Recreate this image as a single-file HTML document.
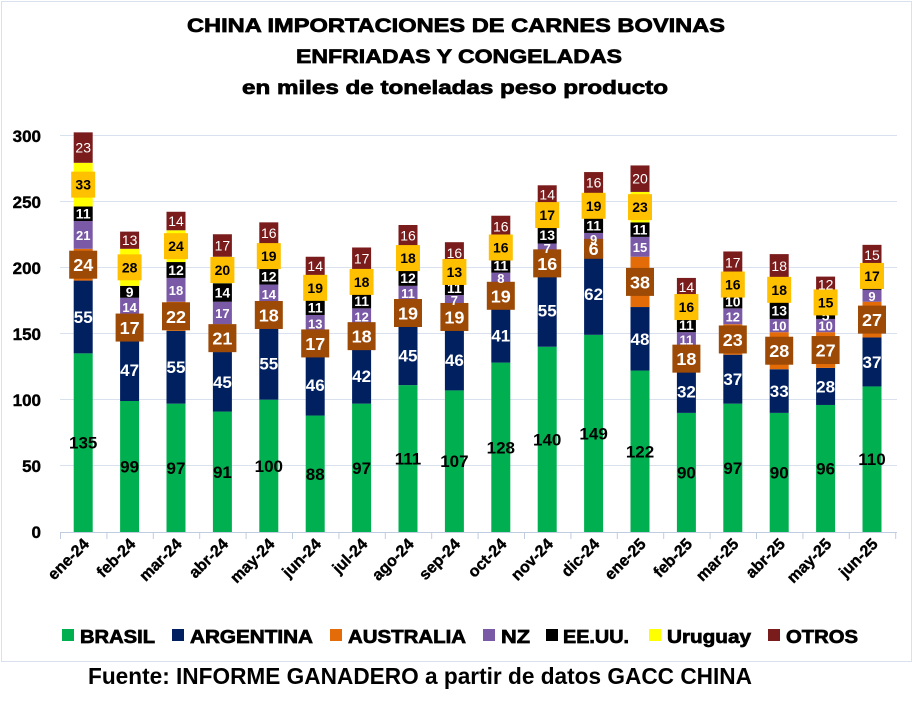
<!DOCTYPE html>
<html><head><meta charset="utf-8"><style>
body{margin:0;background:#fff}
svg{display:block;font-family:"Liberation Sans",sans-serif}
.br{font:bold 17px "Liberation Sans";fill:#000}
.ar{font:bold 17px "Liberation Sans";fill:#fff}
.au{font:bold 18px "Liberation Sans";fill:#fff}
.nz{font:bold 13px "Liberation Sans";fill:#fff}
.us{font:bold 14px "Liberation Sans";fill:#fff}
.uy{font:bold 14px "Liberation Sans";fill:#000}
.ot{font:14px "Liberation Sans";fill:#fff}
.ax{font:bold 17px "Liberation Sans";fill:#000;stroke:#000;stroke-width:0.4}
.xl{font:bold 16px "Liberation Sans";fill:#000;stroke:#000;stroke-width:0.4}
.lg{font:bold 18px "Liberation Sans";fill:#000;stroke:#000;stroke-width:0.7}
.tt{font:bold 19px "Liberation Sans";fill:#000;stroke:#000;stroke-width:0.7}
</style></head><body>
<svg width="920" height="710" viewBox="0 0 920 710" xmlns="http://www.w3.org/2000/svg">
<rect x="1.5" y="1.5" width="910" height="660" fill="#fff" stroke="#d9e1ee"/>
<text class="tt" x="187" y="32" textLength="538" lengthAdjust="spacingAndGlyphs">CHINA IMPORTACIONES DE CARNES BOVINAS</text>
<text class="tt" x="296" y="63" textLength="326" lengthAdjust="spacingAndGlyphs">ENFRIADAS  Y CONGELADAS</text>
<text class="tt" x="242" y="94" textLength="426" lengthAdjust="spacingAndGlyphs">en miles de toneladas peso producto</text>
<g stroke="#d9e1ee" stroke-width="1">
<line x1="60" x2="897" y1="135.5" y2="135.5"/><line x1="60" x2="897" y1="201.5" y2="201.5"/>
<line x1="60" x2="897" y1="267.5" y2="267.5"/><line x1="60" x2="897" y1="333.5" y2="333.5"/>
<line x1="60" x2="897" y1="399.5" y2="399.5"/><line x1="60" x2="897" y1="465.5" y2="465.5"/>
</g>
<g text-anchor="end">
<text x="41" y="538" class="ax">0</text><text x="41" y="472" class="ax">50</text><text x="41" y="406" class="ax">100</text>
<text x="41" y="340" class="ax">150</text><text x="41" y="274" class="ax">200</text><text x="41" y="208" class="ax">250</text><text x="41" y="142" class="ax">300</text>
</g>
<g transform="translate(0,532) scale(1,-1.3233)">
<g>
<g transform="translate(73.7,0)"><rect y="0" width="19" height="135" fill="#00b050"/><rect y="135" width="19" height="55" fill="#002060"/><rect y="190" width="19" height="24" fill="#e36c09"/><rect y="214" width="19" height="21" fill="#7a5aa6"/><rect y="235" width="19" height="11" fill="#000"/><rect y="246" width="19" height="33" fill="#ffff00"/><rect y="279" width="19" height="23" fill="#7b1c1c"/></g>
<g transform="translate(120.1,0)"><rect y="0" width="19" height="99" fill="#00b050"/><rect y="99" width="19" height="47" fill="#002060"/><rect y="146" width="19" height="17" fill="#e36c09"/><rect y="163" width="19" height="14" fill="#7a5aa6"/><rect y="177" width="19" height="9" fill="#000"/><rect y="186" width="19" height="28" fill="#ffff00"/><rect y="214" width="19" height="13" fill="#7b1c1c"/></g>
<g transform="translate(166.5,0)"><rect y="0" width="19" height="97" fill="#00b050"/><rect y="97" width="19" height="55" fill="#002060"/><rect y="152" width="19" height="22" fill="#e36c09"/><rect y="174" width="19" height="18" fill="#7a5aa6"/><rect y="192" width="19" height="12" fill="#000"/><rect y="204" width="19" height="24" fill="#ffff00"/><rect y="228" width="19" height="14" fill="#7b1c1c"/></g>
<g transform="translate(212.9,0)"><rect y="0" width="19" height="91" fill="#00b050"/><rect y="91" width="19" height="45" fill="#002060"/><rect y="136" width="19" height="21" fill="#e36c09"/><rect y="157" width="19" height="17" fill="#7a5aa6"/><rect y="174" width="19" height="14" fill="#000"/><rect y="188" width="19" height="20" fill="#ffff00"/><rect y="208" width="19" height="17" fill="#7b1c1c"/></g>
<g transform="translate(259.3,0)"><rect y="0" width="19" height="100" fill="#00b050"/><rect y="100" width="19" height="55" fill="#002060"/><rect y="155" width="19" height="18" fill="#e36c09"/><rect y="173" width="19" height="14" fill="#7a5aa6"/><rect y="187" width="19" height="12" fill="#000"/><rect y="199" width="19" height="19" fill="#ffff00"/><rect y="218" width="19" height="16" fill="#7b1c1c"/></g>
<g transform="translate(305.7,0)"><rect y="0" width="19" height="88" fill="#00b050"/><rect y="88" width="19" height="46" fill="#002060"/><rect y="134" width="19" height="17" fill="#e36c09"/><rect y="151" width="19" height="13" fill="#7a5aa6"/><rect y="164" width="19" height="11" fill="#000"/><rect y="175" width="19" height="19" fill="#ffff00"/><rect y="194" width="19" height="14" fill="#7b1c1c"/></g>
<g transform="translate(352.1,0)"><rect y="0" width="19" height="97" fill="#00b050"/><rect y="97" width="19" height="42" fill="#002060"/><rect y="139" width="19" height="18" fill="#e36c09"/><rect y="157" width="19" height="12" fill="#7a5aa6"/><rect y="169" width="19" height="11" fill="#000"/><rect y="180" width="19" height="18" fill="#ffff00"/><rect y="198" width="19" height="17" fill="#7b1c1c"/></g>
<g transform="translate(398.5,0)"><rect y="0" width="19" height="111" fill="#00b050"/><rect y="111" width="19" height="45" fill="#002060"/><rect y="156" width="19" height="19" fill="#e36c09"/><rect y="175" width="19" height="11" fill="#7a5aa6"/><rect y="186" width="19" height="12" fill="#000"/><rect y="198" width="19" height="18" fill="#ffff00"/><rect y="216" width="19" height="16" fill="#7b1c1c"/></g>
<g transform="translate(444.9,0)"><rect y="0" width="19" height="107" fill="#00b050"/><rect y="107" width="19" height="46" fill="#002060"/><rect y="153" width="19" height="19" fill="#e36c09"/><rect y="172" width="19" height="7" fill="#7a5aa6"/><rect y="179" width="19" height="11" fill="#000"/><rect y="190" width="19" height="13" fill="#ffff00"/><rect y="203" width="19" height="16" fill="#7b1c1c"/></g>
<g transform="translate(491.3,0)"><rect y="0" width="19" height="128" fill="#00b050"/><rect y="128" width="19" height="41" fill="#002060"/><rect y="169" width="19" height="19" fill="#e36c09"/><rect y="188" width="19" height="8" fill="#7a5aa6"/><rect y="196" width="19" height="11" fill="#000"/><rect y="207" width="19" height="16" fill="#ffff00"/><rect y="223" width="19" height="16" fill="#7b1c1c"/></g>
<g transform="translate(537.7,0)"><rect y="0" width="19" height="140" fill="#00b050"/><rect y="140" width="19" height="55" fill="#002060"/><rect y="195" width="19" height="16" fill="#e36c09"/><rect y="211" width="19" height="7" fill="#7a5aa6"/><rect y="218" width="19" height="13" fill="#000"/><rect y="231" width="19" height="17" fill="#ffff00"/><rect y="248" width="19" height="14" fill="#7b1c1c"/></g>
<g transform="translate(584.1,0)"><rect y="0" width="19" height="149" fill="#00b050"/><rect y="149" width="19" height="62" fill="#002060"/><rect y="211" width="19" height="6" fill="#9c4a06"/><rect y="217" width="19" height="9" fill="#7a5aa6"/><rect y="226" width="19" height="11" fill="#000"/><rect y="237" width="19" height="19" fill="#ffff00"/><rect y="256" width="19" height="16" fill="#7b1c1c"/></g>
<g transform="translate(630.5,0)"><rect y="0" width="19" height="122" fill="#00b050"/><rect y="122" width="19" height="48" fill="#002060"/><rect y="170" width="19" height="38" fill="#e36c09"/><rect y="208" width="19" height="15" fill="#7a5aa6"/><rect y="223" width="19" height="11" fill="#000"/><rect y="234" width="19" height="23" fill="#ffff00"/><rect y="257" width="19" height="20" fill="#7b1c1c"/></g>
<g transform="translate(676.9,0)"><rect y="0" width="19" height="90" fill="#00b050"/><rect y="90" width="19" height="32" fill="#002060"/><rect y="122" width="19" height="18" fill="#e36c09"/><rect y="140" width="19" height="11" fill="#7a5aa6"/><rect y="151" width="19" height="11" fill="#000"/><rect y="162" width="19" height="16" fill="#ffff00"/><rect y="178" width="19" height="14" fill="#7b1c1c"/></g>
<g transform="translate(723.3,0)"><rect y="0" width="19" height="97" fill="#00b050"/><rect y="97" width="19" height="37" fill="#002060"/><rect y="134" width="19" height="23" fill="#e36c09"/><rect y="157" width="19" height="12" fill="#7a5aa6"/><rect y="169" width="19" height="10" fill="#000"/><rect y="179" width="19" height="16" fill="#ffff00"/><rect y="195" width="19" height="17" fill="#7b1c1c"/></g>
<g transform="translate(769.7,0)"><rect y="0" width="19" height="90" fill="#00b050"/><rect y="90" width="19" height="33" fill="#002060"/><rect y="123" width="19" height="28" fill="#e36c09"/><rect y="151" width="19" height="10" fill="#7a5aa6"/><rect y="161" width="19" height="13" fill="#000"/><rect y="174" width="19" height="18" fill="#ffff00"/><rect y="192" width="19" height="18" fill="#7b1c1c"/></g>
<g transform="translate(816.1,0)"><rect y="0" width="19" height="96" fill="#00b050"/><rect y="96" width="19" height="28" fill="#002060"/><rect y="124" width="19" height="27" fill="#e36c09"/><rect y="151" width="19" height="10" fill="#7a5aa6"/><rect y="161" width="19" height="5" fill="#000"/><rect y="166" width="19" height="15" fill="#ffff00"/><rect y="181" width="19" height="12" fill="#7b1c1c"/></g>
<g transform="translate(862.5,0)"><rect y="0" width="19" height="110" fill="#00b050"/><rect y="110" width="19" height="37" fill="#002060"/><rect y="147" width="19" height="27" fill="#e36c09"/><rect y="174" width="19" height="9" fill="#7a5aa6"/><rect y="183" width="19" height="2" fill="#000"/><rect y="185" width="19" height="17" fill="#ffff00"/><rect y="202" width="19" height="15" fill="#7b1c1c"/></g>
</g>
<g text-anchor="middle">
<g transform="translate(83.2,67.5) scale(1,-0.75567)"><text class="br" dy="6">135</text></g>
<g transform="translate(83.2,162.5) scale(1,-0.75567)"><text class="ar" dy="6">55</text></g>
<g transform="translate(83.2,202) scale(1,-0.75567)"><rect x="-14" y="-14" width="28" height="28" fill="#9c4a06"/><text class="au" dy="6.5">24</text></g>
<g transform="translate(83.2,224.5) scale(1,-0.75567)"><text class="nz" dy="5">21</text></g>
<g transform="translate(83.2,240.5) scale(1,-0.75567)"><text class="us" dy="5">11</text></g>
<g transform="translate(83.2,262.5) scale(1,-0.75567)"><rect x="-12" y="-13" width="24" height="26" fill="#ffc000"/><text class="uy" dy="5">33</text></g>
<g transform="translate(83.2,290.5) scale(1,-0.75567)"><text class="ot" dy="5">23</text></g>

<g transform="translate(129.6,49.5) scale(1,-0.75567)"><text class="br" dy="6">99</text></g>
<g transform="translate(129.6,122.5) scale(1,-0.75567)"><text class="ar" dy="6">47</text></g>
<g transform="translate(129.6,154.5) scale(1,-0.75567)"><rect x="-14" y="-14" width="28" height="28" fill="#9c4a06"/><text class="au" dy="6.5">17</text></g>
<g transform="translate(129.6,170) scale(1,-0.75567)"><text class="nz" dy="5">14</text></g>
<g transform="translate(129.6,181.5) scale(1,-0.75567)"><text class="us" dy="5">9</text></g>
<g transform="translate(129.6,200) scale(1,-0.75567)"><rect x="-12" y="-13" width="24" height="26" fill="#ffc000"/><text class="uy" dy="5">28</text></g>
<g transform="translate(129.6,220.5) scale(1,-0.75567)"><text class="ot" dy="5">13</text></g>

<g transform="translate(176,48.5) scale(1,-0.75567)"><text class="br" dy="6">97</text></g>
<g transform="translate(176,124.5) scale(1,-0.75567)"><text class="ar" dy="6">55</text></g>
<g transform="translate(176,163) scale(1,-0.75567)"><rect x="-14" y="-14" width="28" height="28" fill="#9c4a06"/><text class="au" dy="6.5">22</text></g>
<g transform="translate(176,183) scale(1,-0.75567)"><text class="nz" dy="5">18</text></g>
<g transform="translate(176,198) scale(1,-0.75567)"><text class="us" dy="5">12</text></g>
<g transform="translate(176,216) scale(1,-0.75567)"><rect x="-12" y="-13" width="24" height="26" fill="#ffc000"/><text class="uy" dy="5">24</text></g>
<g transform="translate(176,235) scale(1,-0.75567)"><text class="ot" dy="5">14</text></g>

<g transform="translate(222.4,45.5) scale(1,-0.75567)"><text class="br" dy="6">91</text></g>
<g transform="translate(222.4,113.5) scale(1,-0.75567)"><text class="ar" dy="6">45</text></g>
<g transform="translate(222.4,146.5) scale(1,-0.75567)"><rect x="-14" y="-14" width="28" height="28" fill="#9c4a06"/><text class="au" dy="6.5">21</text></g>
<g transform="translate(222.4,165.5) scale(1,-0.75567)"><text class="nz" dy="5">17</text></g>
<g transform="translate(222.4,181) scale(1,-0.75567)"><text class="us" dy="5">14</text></g>
<g transform="translate(222.4,198) scale(1,-0.75567)"><rect x="-12" y="-13" width="24" height="26" fill="#ffc000"/><text class="uy" dy="5">20</text></g>
<g transform="translate(222.4,216.5) scale(1,-0.75567)"><text class="ot" dy="5">17</text></g>

<g transform="translate(268.8,50) scale(1,-0.75567)"><text class="br" dy="6">100</text></g>
<g transform="translate(268.8,127.5) scale(1,-0.75567)"><text class="ar" dy="6">55</text></g>
<g transform="translate(268.8,164) scale(1,-0.75567)"><rect x="-14" y="-14" width="28" height="28" fill="#9c4a06"/><text class="au" dy="6.5">18</text></g>
<g transform="translate(268.8,180) scale(1,-0.75567)"><text class="nz" dy="5">14</text></g>
<g transform="translate(268.8,193) scale(1,-0.75567)"><text class="us" dy="5">12</text></g>
<g transform="translate(268.8,208.5) scale(1,-0.75567)"><rect x="-12" y="-13" width="24" height="26" fill="#ffc000"/><text class="uy" dy="5">19</text></g>
<g transform="translate(268.8,226) scale(1,-0.75567)"><text class="ot" dy="5">16</text></g>

<g transform="translate(315.2,44) scale(1,-0.75567)"><text class="br" dy="6">88</text></g>
<g transform="translate(315.2,111) scale(1,-0.75567)"><text class="ar" dy="6">46</text></g>
<g transform="translate(315.2,142.5) scale(1,-0.75567)"><rect x="-14" y="-14" width="28" height="28" fill="#9c4a06"/><text class="au" dy="6.5">17</text></g>
<g transform="translate(315.2,157.5) scale(1,-0.75567)"><text class="nz" dy="5">13</text></g>
<g transform="translate(315.2,169.5) scale(1,-0.75567)"><text class="us" dy="5">11</text></g>
<g transform="translate(315.2,184.5) scale(1,-0.75567)"><rect x="-12" y="-13" width="24" height="26" fill="#ffc000"/><text class="uy" dy="5">19</text></g>
<g transform="translate(315.2,201) scale(1,-0.75567)"><text class="ot" dy="5">14</text></g>

<g transform="translate(361.6,48.5) scale(1,-0.75567)"><text class="br" dy="6">97</text></g>
<g transform="translate(361.6,118) scale(1,-0.75567)"><text class="ar" dy="6">42</text></g>
<g transform="translate(361.6,148) scale(1,-0.75567)"><rect x="-14" y="-14" width="28" height="28" fill="#9c4a06"/><text class="au" dy="6.5">18</text></g>
<g transform="translate(361.6,163) scale(1,-0.75567)"><text class="nz" dy="5">12</text></g>
<g transform="translate(361.6,174.5) scale(1,-0.75567)"><text class="us" dy="5">11</text></g>
<g transform="translate(361.6,189) scale(1,-0.75567)"><rect x="-12" y="-13" width="24" height="26" fill="#ffc000"/><text class="uy" dy="5">18</text></g>
<g transform="translate(361.6,206.5) scale(1,-0.75567)"><text class="ot" dy="5">17</text></g>

<g transform="translate(408,55.5) scale(1,-0.75567)"><text class="br" dy="6">111</text></g>
<g transform="translate(408,133.5) scale(1,-0.75567)"><text class="ar" dy="6">45</text></g>
<g transform="translate(408,165.5) scale(1,-0.75567)"><rect x="-14" y="-14" width="28" height="28" fill="#9c4a06"/><text class="au" dy="6.5">19</text></g>
<g transform="translate(408,180.5) scale(1,-0.75567)"><text class="nz" dy="5">11</text></g>
<g transform="translate(408,192) scale(1,-0.75567)"><text class="us" dy="5">12</text></g>
<g transform="translate(408,207) scale(1,-0.75567)"><rect x="-12" y="-13" width="24" height="26" fill="#ffc000"/><text class="uy" dy="5">18</text></g>
<g transform="translate(408,224) scale(1,-0.75567)"><text class="ot" dy="5">16</text></g>

<g transform="translate(454.4,53.5) scale(1,-0.75567)"><text class="br" dy="6">107</text></g>
<g transform="translate(454.4,130) scale(1,-0.75567)"><text class="ar" dy="6">46</text></g>
<g transform="translate(454.4,162.5) scale(1,-0.75567)"><rect x="-14" y="-14" width="28" height="28" fill="#9c4a06"/><text class="au" dy="6.5">19</text></g>
<g transform="translate(454.4,175.5) scale(1,-0.75567)"><text class="nz" dy="5">7</text></g>
<g transform="translate(454.4,184.5) scale(1,-0.75567)"><text class="us" dy="5">11</text></g>
<g transform="translate(454.4,196.5) scale(1,-0.75567)"><rect x="-12" y="-13" width="24" height="26" fill="#ffc000"/><text class="uy" dy="5">13</text></g>
<g transform="translate(454.4,211) scale(1,-0.75567)"><text class="ot" dy="5">16</text></g>

<g transform="translate(500.8,64) scale(1,-0.75567)"><text class="br" dy="6">128</text></g>
<g transform="translate(500.8,148.5) scale(1,-0.75567)"><text class="ar" dy="6">41</text></g>
<g transform="translate(500.8,178.5) scale(1,-0.75567)"><rect x="-14" y="-14" width="28" height="28" fill="#9c4a06"/><text class="au" dy="6.5">19</text></g>
<g transform="translate(500.8,192) scale(1,-0.75567)"><text class="nz" dy="5">8</text></g>
<g transform="translate(500.8,201.5) scale(1,-0.75567)"><text class="us" dy="5">11</text></g>
<g transform="translate(500.8,215) scale(1,-0.75567)"><rect x="-12" y="-13" width="24" height="26" fill="#ffc000"/><text class="uy" dy="5">16</text></g>
<g transform="translate(500.8,231) scale(1,-0.75567)"><text class="ot" dy="5">16</text></g>

<g transform="translate(547.2,70) scale(1,-0.75567)"><text class="br" dy="6">140</text></g>
<g transform="translate(547.2,167.5) scale(1,-0.75567)"><text class="ar" dy="6">55</text></g>
<g transform="translate(547.2,203) scale(1,-0.75567)"><rect x="-14" y="-14" width="28" height="28" fill="#9c4a06"/><text class="au" dy="6.5">16</text></g>
<g transform="translate(547.2,214.5) scale(1,-0.75567)"><text class="nz" dy="5">7</text></g>
<g transform="translate(547.2,224.5) scale(1,-0.75567)"><text class="us" dy="5">13</text></g>
<g transform="translate(547.2,239.5) scale(1,-0.75567)"><rect x="-12" y="-13" width="24" height="26" fill="#ffc000"/><text class="uy" dy="5">17</text></g>
<g transform="translate(547.2,255) scale(1,-0.75567)"><text class="ot" dy="5">14</text></g>

<g transform="translate(593.6,74.5) scale(1,-0.75567)"><text class="br" dy="6">149</text></g>
<g transform="translate(593.6,180) scale(1,-0.75567)"><text class="ar" dy="6">62</text></g>
<g transform="translate(593.6,214) scale(1,-0.75567)"><rect x="-9.5" y="-10" width="19" height="20" fill="#9c4a06"/><text class="au" dy="6">6</text></g>
<g transform="translate(593.6,221.5) scale(1,-0.75567)"><text class="nz" dy="5">9</text></g>
<g transform="translate(593.6,231.5) scale(1,-0.75567)"><text class="us" dy="5">11</text></g>
<g transform="translate(593.6,246.5) scale(1,-0.75567)"><rect x="-12" y="-13" width="24" height="26" fill="#ffc000"/><text class="uy" dy="5">19</text></g>
<g transform="translate(593.6,264) scale(1,-0.75567)"><text class="ot" dy="5">16</text></g>

<g transform="translate(640,61) scale(1,-0.75567)"><text class="br" dy="6">122</text></g>
<g transform="translate(640,146) scale(1,-0.75567)"><text class="ar" dy="6">48</text></g>
<g transform="translate(640,189) scale(1,-0.75567)"><rect x="-14" y="-14" width="28" height="28" fill="#9c4a06"/><text class="au" dy="6.5">38</text></g>
<g transform="translate(640,215.5) scale(1,-0.75567)"><text class="nz" dy="5">15</text></g>
<g transform="translate(640,228.5) scale(1,-0.75567)"><text class="us" dy="5">11</text></g>
<g transform="translate(640,245.5) scale(1,-0.75567)"><rect x="-12" y="-13" width="24" height="26" fill="#ffc000"/><text class="uy" dy="5">23</text></g>
<g transform="translate(640,267) scale(1,-0.75567)"><text class="ot" dy="5">20</text></g>

<g transform="translate(686.4,45) scale(1,-0.75567)"><text class="br" dy="6">90</text></g>
<g transform="translate(686.4,106) scale(1,-0.75567)"><text class="ar" dy="6">32</text></g>
<g transform="translate(686.4,131) scale(1,-0.75567)"><rect x="-14" y="-14" width="28" height="28" fill="#9c4a06"/><text class="au" dy="6.5">18</text></g>
<g transform="translate(686.4,145.5) scale(1,-0.75567)"><text class="nz" dy="5">11</text></g>
<g transform="translate(686.4,156.5) scale(1,-0.75567)"><text class="us" dy="5">11</text></g>
<g transform="translate(686.4,170) scale(1,-0.75567)"><rect x="-12" y="-13" width="24" height="26" fill="#ffc000"/><text class="uy" dy="5">16</text></g>
<g transform="translate(686.4,185) scale(1,-0.75567)"><text class="ot" dy="5">14</text></g>

<g transform="translate(732.8,48.5) scale(1,-0.75567)"><text class="br" dy="6">97</text></g>
<g transform="translate(732.8,115.5) scale(1,-0.75567)"><text class="ar" dy="6">37</text></g>
<g transform="translate(732.8,145.5) scale(1,-0.75567)"><rect x="-14" y="-14" width="28" height="28" fill="#9c4a06"/><text class="au" dy="6.5">23</text></g>
<g transform="translate(732.8,163) scale(1,-0.75567)"><text class="nz" dy="5">12</text></g>
<g transform="translate(732.8,174) scale(1,-0.75567)"><text class="us" dy="5">10</text></g>
<g transform="translate(732.8,187) scale(1,-0.75567)"><rect x="-12" y="-13" width="24" height="26" fill="#ffc000"/><text class="uy" dy="5">16</text></g>
<g transform="translate(732.8,203.5) scale(1,-0.75567)"><text class="ot" dy="5">17</text></g>

<g transform="translate(779.2,45) scale(1,-0.75567)"><text class="br" dy="6">90</text></g>
<g transform="translate(779.2,106.5) scale(1,-0.75567)"><text class="ar" dy="6">33</text></g>
<g transform="translate(779.2,137) scale(1,-0.75567)"><rect x="-14" y="-14" width="28" height="28" fill="#9c4a06"/><text class="au" dy="6.5">28</text></g>
<g transform="translate(779.2,156) scale(1,-0.75567)"><text class="nz" dy="5">10</text></g>
<g transform="translate(779.2,167.5) scale(1,-0.75567)"><text class="us" dy="5">13</text></g>
<g transform="translate(779.2,183) scale(1,-0.75567)"><rect x="-12" y="-13" width="24" height="26" fill="#ffc000"/><text class="uy" dy="5">18</text></g>
<g transform="translate(779.2,201) scale(1,-0.75567)"><text class="ot" dy="5">18</text></g>

<g transform="translate(825.6,48) scale(1,-0.75567)"><text class="br" dy="6">96</text></g>
<g transform="translate(825.6,110) scale(1,-0.75567)"><text class="ar" dy="6">28</text></g>
<g transform="translate(825.6,137.5) scale(1,-0.75567)"><rect x="-14" y="-14" width="28" height="28" fill="#9c4a06"/><text class="au" dy="6.5">27</text></g>
<g transform="translate(825.6,156) scale(1,-0.75567)"><text class="nz" dy="5">10</text></g>
<g transform="translate(825.6,163.5) scale(1,-0.75567)"><text class="us" dy="5">5</text></g>
<g transform="translate(825.6,173.5) scale(1,-0.75567)"><rect x="-12" y="-13" width="24" height="26" fill="#ffc000"/><text class="uy" dy="5">15</text></g>
<g transform="translate(825.6,187) scale(1,-0.75567)"><text class="ot" dy="5">12</text></g>

<g transform="translate(872,55) scale(1,-0.75567)"><text class="br" dy="6">110</text></g>
<g transform="translate(872,128.5) scale(1,-0.75567)"><text class="ar" dy="6">37</text></g>
<g transform="translate(872,160.5) scale(1,-0.75567)"><rect x="-14" y="-14" width="28" height="28" fill="#9c4a06"/><text class="au" dy="6.5">27</text></g>
<g transform="translate(872,178.5) scale(1,-0.75567)"><text class="nz" dy="5">9</text></g>
<g transform="translate(872,193.5) scale(1,-0.75567)"><rect x="-12" y="-13" width="24" height="26" fill="#ffc000"/><text class="uy" dy="5">17</text></g>
<g transform="translate(872,209.5) scale(1,-0.75567)"><text class="ot" dy="5">15</text></g>
</g>
</g>
<g stroke="#c0cde0" stroke-width="1">
<line x1="60" x2="897" y1="532.5" y2="532.5"/>
<path d="M60.5 532v7M106.9 532v7M153.3 532v7M199.7 532v7M246.1 532v7M292.5 532v7M338.9 532v7M385.3 532v7M431.7 532v7M478.1 532v7M524.5 532v7M570.9 532v7M617.3 532v7M663.7 532v7M710.1 532v7M756.5 532v7M802.9 532v7M849.3 532v7M895.7 532v7"/>
</g>
<g text-anchor="end">
<text class="xl" transform="translate(90,545) rotate(-45)">ene-24</text>
<text class="xl" transform="translate(136.4,545) rotate(-45)">feb-24</text>
<text class="xl" transform="translate(182.8,545) rotate(-45)">mar-24</text>
<text class="xl" transform="translate(229.2,545) rotate(-45)">abr-24</text>
<text class="xl" transform="translate(275.6,545) rotate(-45)">may-24</text>
<text class="xl" transform="translate(322,545) rotate(-45)">jun-24</text>
<text class="xl" transform="translate(368.4,545) rotate(-45)">jul-24</text>
<text class="xl" transform="translate(414.8,545) rotate(-45)">ago-24</text>
<text class="xl" transform="translate(461.2,545) rotate(-45)">sep-24</text>
<text class="xl" transform="translate(507.6,545) rotate(-45)">oct-24</text>
<text class="xl" transform="translate(554,545) rotate(-45)">nov-24</text>
<text class="xl" transform="translate(600.4,545) rotate(-45)">dic-24</text>
<text class="xl" transform="translate(646.8,545) rotate(-45)">ene-25</text>
<text class="xl" transform="translate(693.2,545) rotate(-45)">feb-25</text>
<text class="xl" transform="translate(739.6,545) rotate(-45)">mar-25</text>
<text class="xl" transform="translate(786,545) rotate(-45)">abr-25</text>
<text class="xl" transform="translate(832.4,545) rotate(-45)">may-25</text>
<text class="xl" transform="translate(878.8,545) rotate(-45)">jun-25</text>
</g>
<g>
<rect x="62" y="629" width="12" height="12" fill="#00b050"/><text class="lg" x="80" y="643" textLength="75" lengthAdjust="spacingAndGlyphs">BRASIL</text>
<rect x="172" y="629" width="12" height="12" fill="#002060"/><text class="lg" x="190" y="643" textLength="123" lengthAdjust="spacingAndGlyphs">ARGENTINA</text>
<rect x="330" y="629" width="12" height="12" fill="#e36c09"/><text class="lg" x="348" y="643" textLength="118" lengthAdjust="spacingAndGlyphs">AUSTRALIA</text>
<rect x="483" y="629" width="12" height="12" fill="#7a5aa6"/><text class="lg" x="501" y="643" textLength="29" lengthAdjust="spacingAndGlyphs">NZ</text>
<rect x="546" y="629" width="12" height="12" fill="#000"/><text class="lg" x="563" y="643" textLength="66" lengthAdjust="spacingAndGlyphs">EE.UU.</text>
<rect x="649" y="629" width="12" height="12" fill="#ffff00"/><text class="lg" x="667" y="643" textLength="84" lengthAdjust="spacingAndGlyphs">Uruguay</text>
<rect x="768" y="629" width="12" height="12" fill="#7b1c1c"/><text class="lg" x="786" y="643" textLength="72" lengthAdjust="spacingAndGlyphs">OTROS</text>
</g>
<text x="88" y="684" font-weight="bold" font-size="23" textLength="664" lengthAdjust="spacingAndGlyphs" fill="#000">Fuente: INFORME GANADERO a partir de datos GACC CHINA</text>
</svg>
</body></html>
